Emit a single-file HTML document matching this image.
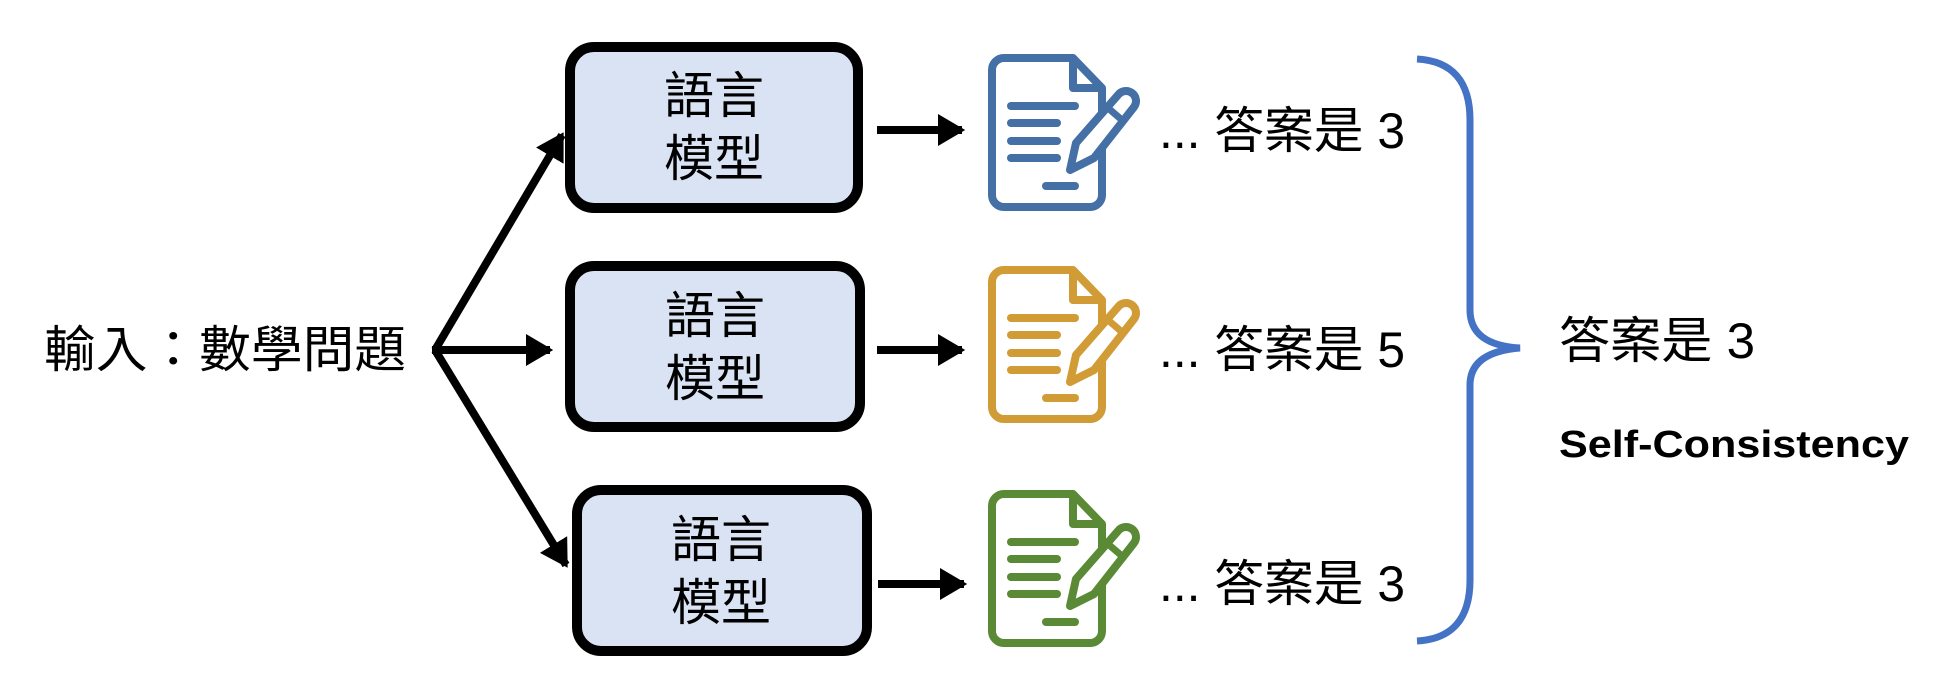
<!DOCTYPE html>
<html><head><meta charset="utf-8"><style>
html,body{margin:0;padding:0;background:#fff;}
svg{display:block;}
text{font-family:"Liberation Sans","Noto Sans CJK TC",sans-serif;fill:#000;}
</style></head><body>
<svg width="1958" height="698" viewBox="0 0 1958 698" xmlns="http://www.w3.org/2000/svg">
<defs>
<marker id="ah" markerWidth="4" markerHeight="4" refX="3" refY="2" orient="auto" markerUnits="strokeWidth">
<path d="M0,0 L3.4,2 L0,4 z" fill="#000"/>
</marker>
<g id="icon">
<path d="M1004,58 H1073 L1102,88 V195 a12,12 0 0 1 -12,12 H1004 a12,12 0 0 1 -12,-12 V70 a12,12 0 0 1 12,-12 z" fill="none" stroke="currentColor" stroke-width="8" stroke-linejoin="round"/>
<path d="M1073,58 V88 H1102" fill="none" stroke="currentColor" stroke-width="8" stroke-linejoin="round"/>
<g stroke="currentColor" stroke-width="8" stroke-linecap="round">
<line x1="1011" y1="106" x2="1075" y2="106"/>
<line x1="1011" y1="123" x2="1057" y2="123"/>
<line x1="1011" y1="141" x2="1057" y2="141"/>
<line x1="1011" y1="158" x2="1057" y2="158"/>
<line x1="1046" y1="186" x2="1075" y2="186"/>
</g>
<path d="M1070,170 L1076,143 L1118,95 a9,9 0 0 1 16,12 L1094,158 z" fill="#fff" stroke="currentColor" stroke-width="8" stroke-linejoin="round"/>
<line x1="1108" y1="108" x2="1122" y2="120" stroke="currentColor" stroke-width="7"/>
</g>
</defs>

<text x="44" y="367" font-size="50" textLength="362" lengthAdjust="spacingAndGlyphs">輸入：數學問題</text>

<g stroke="#000" stroke-width="8" fill="none">
<line x1="435" y1="350" x2="562" y2="135" marker-end="url(#ah)"/>
<line x1="432" y1="350" x2="550" y2="350" marker-end="url(#ah)"/>
<line x1="435" y1="350" x2="566" y2="565" marker-end="url(#ah)"/>
<line x1="877" y1="130" x2="962" y2="130" marker-end="url(#ah)"/>
<line x1="877" y1="350" x2="962" y2="350" marker-end="url(#ah)"/>
<line x1="878" y1="584" x2="964" y2="584" marker-end="url(#ah)"/>
</g>

<g fill="#dae3f3" stroke="#000" stroke-width="10">
<rect x="570" y="47" width="288" height="161" rx="24"/>
<rect x="570" y="266" width="290" height="161" rx="24"/>
<rect x="577" y="490" width="290" height="161" rx="24"/>
</g>
<g font-size="50" text-anchor="middle">
<text x="714" y="113">語言</text><text x="714" y="176">模型</text>
<text x="715" y="333">語言</text><text x="715" y="396">模型</text>
<text x="721" y="557">語言</text><text x="721" y="620">模型</text>
</g>

<use href="#icon" style="color:#4470a6"/>
<use href="#icon" y="212" style="color:#d19b35"/>
<use href="#icon" y="436" style="color:#5a8a35"/>

<g font-size="50">
<text x="1159" y="148" textLength="246" lengthAdjust="spacingAndGlyphs">... 答案是 3</text>
<text x="1159" y="367" textLength="246" lengthAdjust="spacingAndGlyphs">... 答案是 5</text>
<text x="1159" y="601" textLength="246" lengthAdjust="spacingAndGlyphs">... 答案是 3</text>
<text x="1559" y="358" textLength="196" lengthAdjust="spacingAndGlyphs">答案是 3</text>
</g>
<text x="1559" y="457" font-size="38" font-weight="bold" textLength="350" lengthAdjust="spacingAndGlyphs">Self-Consistency</text>

<path d="M1417,59 Q1470,62 1470,120 V310 Q1470,345 1520,348 Q1470,352 1470,385 V580 Q1470,638 1417,641" fill="none" stroke="#4472c4" stroke-width="7"/>
</svg>
</body></html>
